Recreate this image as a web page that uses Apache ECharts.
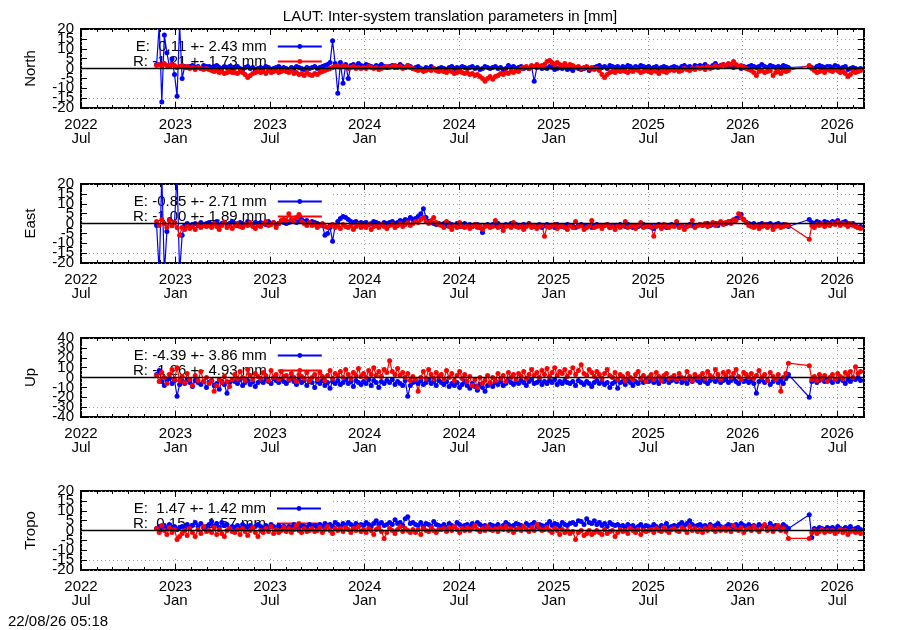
<!DOCTYPE html>
<html>
<head>
<meta charset="utf-8">
<title>LAUT: Inter-system translation parameters</title>
<script src="https://cdn.jsdelivr.net/npm/echarts@6/dist/echarts.min.js"></script>
<style>
  html, body { margin: 0; padding: 0; background: #fff; }
  #chart { width: 900px; height: 630px; }
</style>
</head>
<body>
<div id="chart"></div>
<script>
// one value every 5 days starting 2022-11-25, null = no solution (line bridges the gap)
const startDate = Date.UTC(2022, 10, 25);
const stepDays = 5;

const panelNames = ['North', 'East', 'Up', 'Tropo'];
const yLimits = [20, 20, 40, 20];
const yTickSteps = [5, 5, 10, 5];
const xTickLabels = ['2022\nJul', '2023\nJan', '2023\nJul', '2024\nJan', '2024\nJul',
  '2025\nJan', '2025\nJul', '2026\nJan', '2026\nJul'];
const legendE = ['E:  0.11 +- 2.43 mm', 'E: -0.85 +- 2.71 mm', 'E: -4.39 +- 3.86 mm', 'E:  1.47 +- 1.42 mm'];
const legendR = ['R: -1.21 +- 1.73 mm', 'R: -1.00 +- 1.89 mm', 'R: -1.26 +- 4.93 mm', 'R:  0.15 +- 1.57 mm'];

const northE = [
  2, 22, -17, 17, 8, 1, 5, -3, -14, 22,
  -5, 1, 0.5, 1, 1.5, 0.5, 1, 0, 1.5, 1,
  1, 0.5, 1, 1.5, 0.5, 0, 1, 0.5, 1, 0,
  0.5, 1, 0, -0.5, 0.5, 1, 0, 0.5, -0.5, 0,
  0.5, 0, 1, 0.5, -0.5, 0, 0.5, 1, 0, 0.5,
  0, -0.5, 0.5, 0, 1, 0.5, 0, -0.5, 0.5, 0,
  0.5, 1, 0, 0.5, 1, 1.5, 2, 3, 14, 2.5,
  -12.5, 3, -7.5, 2, -5, 1.5, 2, 1, 2.5, 1.5,
  1, 2, 1.5, 1, 0.5, 1.5, 1, 2, 1, 0.5,
  1, 1.5, 0.5, 1, 2, 1, 0.5, 1.5, 1, 0,
  0.5, 1, 0, -0.5, 0.5, 0, 1, 0, -0.5, 0,
  0.5, 0, -0.5, 0.5, 1, 0, 0.5, 0, 1, 0.5,
  0, 0.5, 1, 0, 0.5, -0.5, 0, 1, 0.5, 0,
  0.5, 1, 0, 0.5, -0.5, 0, 1.5, 0.5, 1, 0,
  0.5, 1, 0, 0.5, 0, 1, -6.5, 0.5, 1, 0,
  0.5, 0, 1, 0.5, -0.5, 0, 0.5, 0, 1, -0.5,
  0, -1, 0.5, 0, -0.5, 0, 0.5, -1, 0, 0.5,
  1, 1.5, 0.5, 1, 0, 1.5, 1, 0.5, 1, 0,
  1, 0.5, 1.5, 1, 0, 1, 0.5, 1.5, 1, 0.5,
  1, 0, 0.5, 1, 0, 0.5, 1, 0.5, 0, 0.5,
  1, 0.5, 0, 1, 1.5, 0.5, 1, 0, 1.5, 1,
  1.5, 1, 2, 1, 0.5, 1.5, 2.5, 1, 1.5, 2,
  1, 1.5, 1, 0.5, 1.5, 1, 0, 1, 0.5, 1,
  1.5, 1, 0.5, 1, 2, 1, 0.5, 1.5, 1, 0.5,
  1, 0.5, 1.5, 1, 0.5, null, null, null, null, null,
  null, null, 1, 0.5, 0, 1, 1.5, 1, 0.5, 1,
  1, 0.5, 1.5, 1, 0, 0.5, 1, -0.5, 0, 0.5,
  0, -0.5, 0
];
const northR = [
  1.5, 2, 1, 2.5, 1.5, 1, 2, 1.5, 0.5, 1,
  1.5, 0.5, 1, 0, 0.5, -0.5, 0.5, 0, -0.5, 0,
  -0.5, -1, -1.5, -1, -2, -1.5, -2.5, -2, -1.5, -2,
  -2, -2.5, -1.5, -2, -3, -4.5, -3.5, -2.5, -2, -1.5,
  -2, -1.5, -2.5, -1, -2, -1.5, -1, -2, -1.5, -1,
  -1.5, -2, -1, -2.5, -2, -3, -2.5, -3.5, -2, -3,
  -3.5, -2.5, -3, -2, -1.5, -1, -0.5, 0, 0.5, 1,
  1, 0.5, 1.5, 1, 0, 0.5, 1, 0, 0.5, 0,
  0.5, 0, 1, 0.5, 0, 0.5, -0.5, 0, 0.5, 1,
  0.5, 1, 1.5, 0.5, 1, 0, 0.5, 1.5, 0.5, 0,
  -0.5, -1, -0.5, -1.5, -1, -0.5, -1, 0, -1, -1.5,
  -1, -1.5, -2, -1, -1.5, -2.5, -2, -1.5, -2, -2.5,
  -2, -3, -2.5, -3.5, -3, -4, -5, -6.5, -5, -4,
  -5.5, -4, -3.5, -2.5, -3, -2, -2.5, -1.5, -2, -1,
  -1.5, 0, 0.5, 1, 0, 1.5, 1, 2, 1, 1.5,
  2, 3.5, 4, 3, 2, 3, 2, 1.5, 2.5, 1,
  2, 1.5, 0.5, 1, 0, 0.5, 1, 0, 0.5, -0.5,
  0, -1, -3, -4.5, -3, -2, -1.5, -2, -1, -1.5,
  -1, -1.5, -2, -1, -1.5, -0.5, -1, -2, -1.5, -1,
  -1.5, -2, -1, -1.5, -2.5, -1, -1.5, -2, -1, -0.5,
  -1, -0.5, -1.5, -1, 0, -0.5, -1, 0, -0.5, 0.5,
  0, 0.5, -0.5, 1, 0, 0.5, 1.5, 0.5, 1, 2,
  1.5, 2.5, 2, 3.5, 2, 1, 1.5, 0.5, 0, -0.5,
  -1, -2, -3.5, -1.5, -1, -2, -1.5, -1, -3.5, -2,
  -1.5, -2.5, -1, -1.5, -1, null, null, null, null, null,
  null, null, 1.5, 0, -1, -2, -1.5, -1, -2, -0.5,
  -1, -1.5, -0.5, -1, -2, -1.5, -2.5, -4, -3, -1.5,
  -2, -1.5, -1
];
const eastE = [
  -1, -25, 25, -25, -4, 2, -1, 0.5, 25, -25,
  -6, -1, 0, -1.5, -0.5, 0, -1, 0.5, -0.5, 0,
  0.5, -0.5, 0, 1, -1, 0, 0.5, -0.5, 0, 1,
  0, -1, 0.5, 0, -0.5, 1, 0, -1, 0.5, 0,
  0.5, 0, -0.5, 1, 0, 0.5, -1, 0, 1, 0.5,
  0, 0.5, 1, 1.5, 0.5, 1, 2, 1, 1.5, 0.5,
  1, 0.5, 0, -0.5, -1, -6, -5, -2, -9, -1,
  1, 2.5, 3.5, 3, 2, 1, 0.5, 1, 0, 0.5,
  0, 0.5, -0.5, 0, 1, 0.5, 0, -0.5, 0.5, 0,
  0.5, 1, 0, 0.5, 1.5, 1, 2, 1.5, 3, 2,
  2.5, 3.5, 5, 7.5, 3, 1, 0.5, 0, -0.5, 0,
  -0.5, 0, -1, 0, -0.5, -1, 0, -1.5, -0.5, 0,
  -1, -0.5, -1.5, -1, -0.5, -2, -4.5, -1, -0.5, -1,
  -0.5, -1, 0, -1.5, -1, -0.5, -1, 0, -1, -0.5,
  -1, -1.5, -0.5, -1, 0, -1, -1.5, -1, -0.5, -2,
  -1, -0.5, -1.5, -1, -2, -0.5, -1, -1.5, -1, -0.5,
  -1, -1.5, -2, -1, -0.5, -1, -1.5, -1, -2, -1,
  -0.5, -1, -1.5, -1, -0.5, -2, -1, -1.5, -1, -0.5,
  -1, -1.5, -0.5, -1, -2, -1, -1.5, -1, -0.5, -1,
  -1.5, -1, -2.5, -1, -0.5, -1, -1.5, -2, -1, -0.5,
  -1, -0.5, -1.5, -1, -2, -1, -0.5, -1, -1.5, -1,
  -0.5, -1, -0.5, 0, -1, -0.5, 0, -1, 0.5, 0,
  0, 0.5, 1, 1.5, 2.5, 3, 4.5, 2, 0.5, 0,
  -0.5, 0, -1, -0.5, 0, -1, -0.5, 0, -1, -0.5,
  0, -1, -0.5, -1, -1.5, null, null, null, null, null,
  null, null, 2, 0.5, 0, 1, 0.5, 0, 1, 0.5,
  0, 1, 0.5, 1.5, 0, 0.5, 1, 0, -0.5, 0,
  -1, -2, -1.5
];
const eastR = [
  1, -1, 2, 0, -2, 1.5, -1, 0.5, -2, -6,
  -2, -3, -1, -2.5, -1.5, -3, -0.5, -2, -1, -1.5,
  -1, -2, 0, -1.5, -3, -1, 0.5, -2, -1, -2.5,
  -1, 0, -1.5, -2, -0.5, -1, 0.5, -1.5, -2.5, -1,
  -1.5, 0, 1, -1, -0.5, 0.5, -2, 0, 1.5, 2,
  1.5, 5, 2, 1, 3, 4.5, 1, 0, -1, 0.5,
  -1, -0.5, -2, -1, 0, -1.5, -2, -1, -0.5, -2,
  -1, -2.5, -0.5, -1.5, -2, -1, -3, -1.5, -0.5, -2,
  -1, -2, -0.5, -3, -1.5, -1, -2, -0.5, -1.5, -2.5,
  -1, -0.5, -2, -1, 0, -1.5, -0.5, 0.5, -1, 0,
  1, 0.5, 2, 3, 1, 0, 1.5, 3, 0.5, -0.5,
  -1, -2, 1, -1.5, -3, -1, -2, 0.5, -1.5, -2,
  -1, -2.5, -1.5, -0.5, -2, -1, -3, -1.5, -1, -2,
  -1.5, 1.5, -2, -1, -3.5, -1.5, -1, -2, 0.5, -1.5,
  -2, -1, -3, -1.5, -0.5, -2, -1, -2.5, -1.5, -1,
  -6.5, -1.5, -2, -1, -0.5, -2.5, -1.5, -1, -2, -3,
  -1, -2, 1, -1.5, -1, -3, -2, -1, 1.5, -2,
  -1.5, -1, -2.5, -1, -0.5, -2, -1.5, -3, -1, -2,
  -1, 1, -2, -1.5, -1, -2.5, -1, 0.5, -2, -1.5,
  -1, -2, -6.5, -1.5, -1, -2.5, -0.5, -1.5, -2, -1,
  -1.5, 1, -2, -1, -3, -1.5, -1, 1.5, -2, -1,
  -0.5, -1, 0, -1.5, -0.5, 0.5, -1, 0, 1, -0.5,
  0.5, 1, 0, 2, 1.5, 5, 3, 2, 0.5, -1,
  -1.5, -2, -1, -2.5, -1.5, -0.5, -2, -1, -3, -1.5,
  -1, -2, -1.5, -0.5, -1, null, null, null, null, null,
  null, null, -8, -1, -2, -0.5, -1, 0, -1.5, -0.5,
  -1, 0, -0.5, 0.5, -1, 0, -0.5, -1.5, 0, -1,
  -1.5, -2, -2.5
];
const upE = [
  3, 7, -4, -8, -3, -1, -6, -3, -19, -7,
  -4, -6, -2, -5, -9, -3, -5, -7, -4, -10,
  -5, -3, -8, -6, -12, -4, -7, -16, -5, -3,
  -4, -6, -2, -8, -5, -3, -7, -4, -9, -5,
  -3, -5, -2, -4, -6, -1, -3, -5, -2, -4,
  -6, -3, -1, -4, -7, -2, -5, -3, -8, -4,
  -5, -10, -4, -6, -3, -8, -5, -11, -4, -6,
  -3, -7, -5, -2, -6, -4, -9, -3, -5, -7,
  -4, -6, -2, -8, -3, -5, -10, -4, -6, -3,
  -5, -2, -7, -4, -6, -8, -3, -19, -8, -5,
  -4, -6, -3, -7, -5, -2, -6, -4, -8, -3,
  -5, -7, -4, -9, -6, -8, -5, -10, -7, -4,
  -8, -11, -6, -9, -13, -7, -10, -14, -8, -6,
  -9, -5, -7, -4, -8, -6, -3, -5, -7, -4,
  -6, -3, -5, -8, -4, -2, -6, -5, -3, -7,
  -4, -6, -3, -5, -2, -7, -4, -6, -3, -5,
  -6, -4, -8, -3, -5, -7, -4, -6, -9, -5,
  -3, -6, -4, -7, -5, -10, -6, -4, -11, -5,
  -4, -7, -3, -5, -8, -4, -6, -2, -5, -3,
  -4, -2, -5, -3, -6, -1, -4, -2, -5, -3,
  -2, -4, -1, -5, -3, -6, -2, -4, -1, -3,
  -5, -2, -4, -6, -3, -1, -4, -2, -5, -3,
  -2, -5, -3, -1, -4, -6, -2, -4, -3, -5,
  -3, -6, -16, -4, -2, -5, -3, -7, -4, -2,
  -5, -3, -6, -1, 3, null, null, null, null, null,
  null, null, -20, -4, -2, -5, -3, -1, -4, -2,
  -3, -5, -2, -4, -1, -3, -6, -2, -4, -1,
  -2, 0, -3
];
const upR = [
  2, -4, 5, 0, -6, 3, 8, -2, 10, -3,
  1, -5, 4, -2, -8, 2, -3, 6, -4, 0,
  -6, -3, -14, -8, -2, -5, 1, -4, -9, -2,
  3, -1, 6, 0, -3, 8, 2, -2, 4, 1,
  -1, 5, 2, -3, 7, 0, 3, -2, 6, 1,
  2, -2, 4, 0, -4, 3, 1, -1, 5, -3,
  0, 3, -2, 5, 1, -3, 2, 7, -1, 4,
  2, 6, 0, 8, 3, -1, 5, 2, 9, 1,
  4, 0, 7, 3, 10, 2, 6, 1, 8, 5,
  17, 6, 3, 9, 2, 5, 0, 4, -3, 1,
  -2, -14, 0, 6, -1, 8, 3, -1, 5, 1,
  3, -2, 7, 0, 4, -3, 2, 6, -1, 3,
  -4, 1, -8, -2, -10, 0, -6, -3, 2, -5,
  0, -3, 4, -1, 2, -4, 5, 0, 3, -2,
  4, 1, 6, -1, 3, 8, 2, 5, 0, 7,
  3, 9, 1, 5, 10, 2, 6, 4, 8, 1,
  5, 10, 3, 7, 13, 4, 2, 8, 5, 1,
  6, 3, -1, 4, 8, 2, 0, 5, -2, 3,
  1, -3, 4, 0, -2, 3, 6, -1, 2, -4,
  0, 3, -2, 5, 1, -3, 2, 4, -1, 0,
  2, -2, 4, 0, -1, 6, 1, -3, 3, 0,
  1, 4, -1, 6, 2, 0, 8, 3, -2, 5,
  2, 6, 0, 4, 8, 1, -2, 5, 3, 0,
  4, -1, 2, 7, 0, 3, -3, 5, 1, -2,
  3, -14, 0, 4, 14.5, null, null, null, null, null,
  null, null, 12, -2, 1, -3, 3, -1, 2, -4,
  0, 3, -2, 4, 1, -1, 5, 2, 6, 0,
  11, 4, 6
];
const tropoE = [
  1, 2, 0.5, 2.5, 1, 3, 1.5, 2, 0.5, 1.5,
  2, 1, 3, 1.5, 2.5, 4, 2, 3.5, 1.5, 2,
  3, 4.5, 2, 3.5, 1.5, 4, 2.5, 3, 1, 2,
  1.5, 2.5, 1, 3, 2, 1.5, 2.5, 1, 2, 3,
  2, 1, 2.5, 1.5, 3, 2, 1, 2.5, 1.5, 2,
  1, 2, 1.5, 3, 2, 1, 2.5, 2, 1.5, 3,
  2, 2.5, 1.5, 3, 2, 3.5, 2.5, 3, 2, 4,
  3, 2, 3.5, 2.5, 4, 3, 2, 3.5, 2.5, 3,
  2.5, 4, 3, 2, 3.5, 5, 3, 4, 2.5, 3,
  4, 3, 5.5, 3.5, 4, 2.5, 6, 7, 3.5, 4,
  3, 2.5, 4, 2, 3.5, 3, 2, 4.5, 3, 2.5,
  2, 3, 1.5, 3.5, 2.5, 2, 4, 3, 2, 2.5,
  3, 2, 3.5, 2.5, 4, 3, 2, 2.5, 1.5, 3,
  2.5, 2, 3, 1.5, 2.5, 4, 3, 2, 2.5, 3.5,
  3, 2.5, 2, 3.5, 2.5, 3, 4, 2, 3, 2.5,
  2, 3, 4.5, 2.5, 3.5, 3, 2, 4, 3, 2.5,
  3.5, 4, 3, 5, 4.5, 3, 6, 4, 3.5, 5,
  3, 4, 2.5, 3.5, 2, 4, 3, 2.5, 3, 2,
  2.5, 1.5, 3, 2, 2.5, 1, 2, 3, 1.5, 2.5,
  2, 1.5, 3, 2, 1, 2.5, 2, 3.5, 1.5, 2,
  2.5, 2, 3, 4, 2.5, 3.5, 5, 3, 2, 2.5,
  3, 2, 2.5, 1.5, 3, 2, 2.5, 3.5, 2, 1.5,
  2, 3, 2.5, 1.5, 3, 2, 3.5, 2.5, 2, 3,
  2, 2.5, 1.5, 3, 2, 2.5, 1.5, 3.5, 2, 2.5,
  2, 1.5, 3, 2, 1, null, null, null, null, null,
  null, null, 8, -3.5, 1, 0.5, 1.5, 1, 0.5, 1.5,
  1, 1.5, 0.5, 2, 1, 0.5, 1.5, 1, 2, 0.5,
  1, 1.5, 0.5
];
const tropoR = [
  1, -1, 2.5, 0, -2, 1.5, -1, 0.5, -4.5, -3,
  -1.5, 0, -2.5, 1, -1, -3, 0.5, -1.5, 2, -0.5,
  0, -1, 1.5, -2, 0.5, -1.5, -3, 0, 1, -0.5,
  -1, 0.5, -2, 1, -0.5, -2.5, 0, 1.5, -1, -3,
  0, -1, 1, -0.5, 2, -1.5, 0.5, -1, 0, 1.5,
  -0.5, 1, -1, 0.5, 2.5, 0, -1, 1, -0.5, 0,
  1, -0.5, 0, 1.5, -1, 0.5, 2, 0, -1.5, 1,
  0, 1, -0.5, 1.5, 0.5, -1, 1, 0, 2, -0.5,
  0.5, -1, 1, 0, -2, 0.5, 1.5, -0.5, -4, -1,
  1, 0, -1.5, 0.5, 2, -0.5, 1, 0, -1, 0.5,
  -1, 0.5, -2, 1, 0, -0.5, 1.5, 0, -1, 0.5,
  0.5, 1, -0.5, 1.5, 0, 2, 0.5, -1, 1, 0,
  1.5, 0, 1, 2.5, 0.5, -0.5, 1, 0, 2, 0.5,
  0, 1, -0.5, 1.5, 0.5, 2, 0, 1, -1, 0.5,
  1, 0, 2, 0.5, -0.5, 1.5, 0, 3, 1, 0,
  0.5, 1.5, 0, -1, 1, 0, -2, 0.5, -1, 0,
  -1.5, -0.5, -4.5, -1, 0, -2.5, -1.5, 0, -2, -1,
  0, -1, -2, 0.5, -1.5, -0.5, 0, -3, -1, 0.5,
  -0.5, 0, -1.5, 1, 0, -1, 0.5, -2, 0, -0.5,
  0, 0.5, -1, 1, 0, -0.5, 1.5, 0, -1, 0.5,
  1, 0, -0.5, 1.5, 0.5, -1, 2, 0, 1, -0.5,
  0.5, -1, 1, 0, 2, 0.5, -0.5, 1, 0, 1.5,
  0, 1, -0.5, 2.5, 0.5, 0, 1.5, -1, 0.5, 1,
  0, 2, 0.5, -0.5, 1, 3, 0, 1.5, -0.5, 1,
  2.5, 0, 1, -0.5, -4, null, null, null, null, null,
  null, null, -4, -1, 0, -1.5, -0.5, 0.5, -1, 0,
  -0.5, 0, -1.5, -0.5, 0.5, -1, 0, -2, -0.5, 0,
  -1, -0.5, -1.5
];

const seriesE = [northE, eastE, upE, tropoE];
const seriesR = [northR, eastR, upR, tropoR];

// x is counted in months from 2022-07-01, so Jan/Jul ticks fall on multiples of 6
const xMax = 49.7;
function monthIndex(t) {
  const d = new Date(t);
  const y = d.getUTCFullYear(), m = d.getUTCMonth();
  const dim = new Date(Date.UTC(y, m + 1, 0)).getUTCDate();
  return (y - 2022) * 12 + (m - 6) + (d.getUTCDate() - 1) / dim;
}
function toPoints(values) {
  return values
    .map((v, i) => [monthIndex(startDate + i * stepDays * 86400000), v])
    .filter(p => p[1] !== null);
}

const font = '"Liberation Sans", Arial, sans-serif';
const fs = 15;
const tops = [29, 184, 338, 491];
const plotH = 79;

const grid = [], xAxis = [], yAxis = [], legend = [], series = [];

panelNames.forEach((name, p) => {
  grid.push({
    left: 81, width: 783, top: tops[p], height: plotH,
    show: true, borderColor: '#000', borderWidth: 2, backgroundColor: 'transparent'
  });
  const lim = yLimits[p];
  const step = yTickSteps[p];
  const xBase = { type: 'value', gridIndex: p, min: 0, max: xMax,
    axisLine: { show: false, onZero: false }, splitLine: { show: false },
    axisLabel: { show: false }, axisTick: { show: false } };
  const yBase = { type: 'value', gridIndex: p, min: -lim, max: lim, interval: step,
    axisLine: { show: false, onZero: false }, splitLine: { show: false },
    axisLabel: { show: false }, axisTick: { show: false } };
  const xi = xAxis.length, yi = yAxis.length;

  // dotted grid (under everything)
  xAxis.push(Object.assign({}, xBase, { position: 'bottom', interval: 6, z: 0,
    splitLine: { show: true, lineStyle: { color: '#a0a0a0', width: 1, type: [1, 3] } } }));
  // labels + major ticks
  xAxis.push(Object.assign({}, xBase, { position: 'bottom', interval: 6, z: 3,
    axisTick: { show: true, inside: true, length: 6, lineStyle: { color: '#000', width: 1 } },
    axisLabel: { show: true, interval: 0, margin: 10, color: '#000', fontSize: fs, lineHeight: 14,
      fontFamily: font,
      formatter: v => (Number.isInteger(v / 6) && xTickLabels[v / 6]) || '' } }));
  // monthly ticks
  xAxis.push(Object.assign({}, xBase, { position: 'bottom', interval: 1, z: 3,
    axisTick: { show: true, inside: true, length: 3, lineStyle: { color: '#000', width: 1 } } }));
  xAxis.push(Object.assign({}, xBase, { position: 'top', interval: 6, z: 3,
    axisTick: { show: true, inside: true, length: 6, lineStyle: { color: '#000', width: 1 } } }));
  xAxis.push(Object.assign({}, xBase, { position: 'top', interval: 1, z: 3,
    axisTick: { show: true, inside: true, length: 3, lineStyle: { color: '#000', width: 1 } } }));

  yAxis.push(Object.assign({}, yBase, { position: 'left', z: 0,
    splitLine: { show: true, lineStyle: { color: '#a0a0a0', width: 1, type: [1, 3] } } }));
  // the tick labels sit closer than their height, so even and odd steps go on two axes
  const yLabel = parity => ({ show: true, interval: 0, margin: 7, color: '#000', fontSize: fs,
    fontFamily: font, lineHeight: 15, showMinLabel: true, showMaxLabel: true, hideOverlap: false,
    formatter: v => (Math.abs(Math.round(v / step)) % 2 === parity ? String(v) : '') });
  yAxis.push(Object.assign({}, yBase, { position: 'left', z: 3,
    name: name, nameLocation: 'middle', nameGap: 43, nameRotate: 90,
    nameTextStyle: { color: '#000', fontSize: fs, fontFamily: font },
    axisTick: { show: true, inside: true, length: 6, lineStyle: { color: '#000', width: 1 } },
    axisLabel: yLabel(0) }));
  yAxis.push(Object.assign({}, yBase, { position: 'left', z: 3, axisLabel: yLabel(1) }));
  yAxis.push(Object.assign({}, yBase, { position: 'right', z: 3,
    axisTick: { show: true, inside: true, length: 6, lineStyle: { color: '#000', width: 1 } } }));

  legend.push({
    data: [legendE[p], legendR[p]],
    orient: 'vertical', left: 83, top: tops[p] + 2,
    align: 'right', itemWidth: 44, itemHeight: 6, itemGap: 0,
    padding: [8, 10, 25, 50], backgroundColor: '#fff',
    selectedMode: false, z: 1,
    formatter: n => n + '{s|}',
    textStyle: {
      color: '#000', fontSize: fs, fontFamily: font, lineHeight: 15,
      rich: { s: { width: 6 } }
    }
  });

  const common = { type: 'line', xAxisIndex: xi, yAxisIndex: yi, symbol: 'circle', symbolSize: 5,
    showSymbol: true, animation: false, z: 2 };
  series.push(Object.assign({}, common, {
    name: legendE[p], data: toPoints(seriesE[p]),
    lineStyle: { color: '#0000ff', width: 1.2 }, itemStyle: { color: '#0000ff' }
  }));
  series.push(Object.assign({}, common, {
    name: legendR[p], data: toPoints(seriesR[p]),
    lineStyle: { color: '#ff0000', width: 1.2 }, itemStyle: { color: '#ff0000' },
    markLine: { silent: true, symbol: 'none', animation: false, label: { show: false },
      lineStyle: { color: '#000', width: 1.3, type: 'solid' }, data: [{ yAxis: 0 }] }
  }));
});

const chart = echarts.init(document.getElementById('chart'));
chart.setOption({
  animation: false,
  backgroundColor: '#fff',
  title: { text: 'LAUT: Inter-system translation parameters in [mm]', left: 'center', top: 4,
    textStyle: { color: '#000', fontSize: fs, fontWeight: 'normal', fontFamily: font } },
  grid: grid, xAxis: xAxis, yAxis: yAxis, legend: legend, series: series,
  graphic: [{ type: 'text', left: 8, top: 614,
    style: { text: '22/08/26 05:18', fill: '#000', font: fs + 'px ' + font } }]
});
</script>
</body>
</html>
